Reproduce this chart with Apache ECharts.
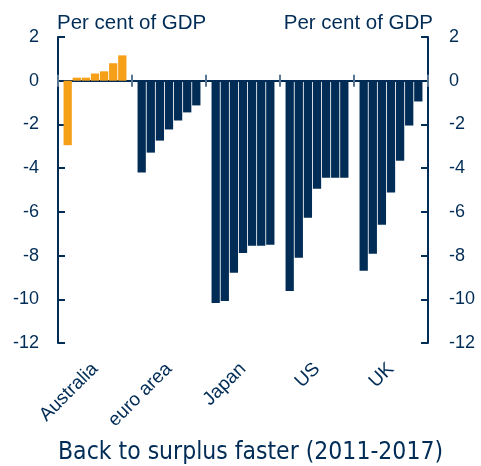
<!DOCTYPE html>
<html>
<head>
<meta charset="utf-8">
<script src="https://cdn.jsdelivr.net/npm/echarts@6/dist/echarts.min.js"></script>
<style>
  html, body { margin: 0; padding: 0; background: #fff; }
  #main { width: 481px; height: 466px; }
</style>
</head>
<body>
<div id="main"></div>
<script>
// budget balance, per cent of GDP, 2011..2017 for each economy
var categories = ['Australia', 'euro area', 'Japan', 'US', 'UK'];
var years = ['2011', '2012', '2013', '2014', '2015', '2016', '2017'];
var australia = [-2.95, 0.14, 0.14, 0.33, 0.43, 0.8, 1.16];
var euroArea = [-4.2, -3.29, -2.74, -2.23, -1.82, -1.45, -1.13];
var japan = [-10.17, -10.08, -8.79, -7.88, -7.55, -7.55, -7.5];
var us = [-9.62, -8.1, -6.27, -4.94, -4.44, -4.44, -4.44];
var uk = [-8.7, -7.92, -6.59, -5.12, -3.66, -2.05, -0.95];
var yTicks = { min: -12, max: 2, interval: 2 };

var navy = '#002c56';
var orange = '#f6a01a';
var tickGrey = '#5b7693';
var font = "'Liberation Sans', Arial, sans-serif";
var titleFont = "'DejaVu Sans Condensed', 'Liberation Sans', sans-serif";

var gridTop = 37, gridBottom = 123, chartH = 466;
// distance from the grid top down to the zero line
var zeroOffset = (chartH - gridTop - gridBottom) * yTicks.max / (yTicks.max - yTicks.min);

var groups = [australia, euroArea, japan, us, uk];
var series = [];
for (var i = 0; i < years.length; i++) {
    var vals = [];
    for (var g = 0; g < groups.length; g++) vals.push(groups[g][i]);
    series.push({
        name: years[i],
        type: 'bar',
        xAxisIndex: 0,
        yAxisIndex: 0,
        data: vals,
        barGap: '10%',
        barCategoryGap: '15%',
        itemStyle: {
            color: function (p) { return p.dataIndex === 0 ? orange : navy; }
        }
    });
}

function yAxis(pos) {
    return {
        type: 'value',
        position: pos,
        min: yTicks.min,
        max: yTicks.max,
        interval: yTicks.interval,
        splitLine: { show: false },
        axisLine: { show: true, lineStyle: { color: navy, width: 2 } },
        axisTick: { show: true, inside: true, length: 7, lineStyle: { color: navy, width: 2 } },
        axisLabel: {
            color: navy, fontFamily: font, fontSize: 18,
            margin: pos === 'left' ? 19 : 21
        }
    };
}

var myChart = echarts.init(document.getElementById('main'));
var option = {
    animation: false,
    grid: { left: 58, right: 53, top: gridTop, bottom: gridBottom },
    xAxis: [
        {
            type: 'category', data: categories,
            axisLine: { onZero: true, lineStyle: { color: navy, width: 2 } },
            axisTick: { show: true, length: 6, lineStyle: { color: tickGrey, width: 2 } },
            axisLabel: { show: false }
        },
        {
            // upper half of the ticks that cross the zero line
            type: 'category', data: categories, position: 'top',
            offset: -zeroOffset,
            axisLine: { show: false, onZero: false },
            axisTick: { show: true, length: 6, lineStyle: { color: tickGrey, width: 2 } },
            axisLabel: { show: false }
        },
        {
            type: 'category', data: categories, position: 'bottom',
            axisLine: { show: false, onZero: false },
            axisTick: { show: false },
            axisLabel: { color: navy, fontFamily: font, fontSize: 19, rotate: 45, margin: 23 }
        }
    ],
    yAxis: [yAxis('left'), yAxis('right')],
    series: series,
    graphic: [
        { type: 'text', left: 57, top: 13, style: { text: 'Per cent of GDP', fill: navy, font: '20.5px ' + font } },
        { type: 'text', right: 48, top: 13, style: { text: 'Per cent of GDP', fill: navy, font: '20.5px ' + font } },
        { type: 'text', left: 58, top: 440, style: { text: 'Back to surplus faster (2011-2017)', fill: navy, font: '24.5px ' + titleFont } }
    ]
};
myChart.setOption(option);
</script>
</body>
</html>
